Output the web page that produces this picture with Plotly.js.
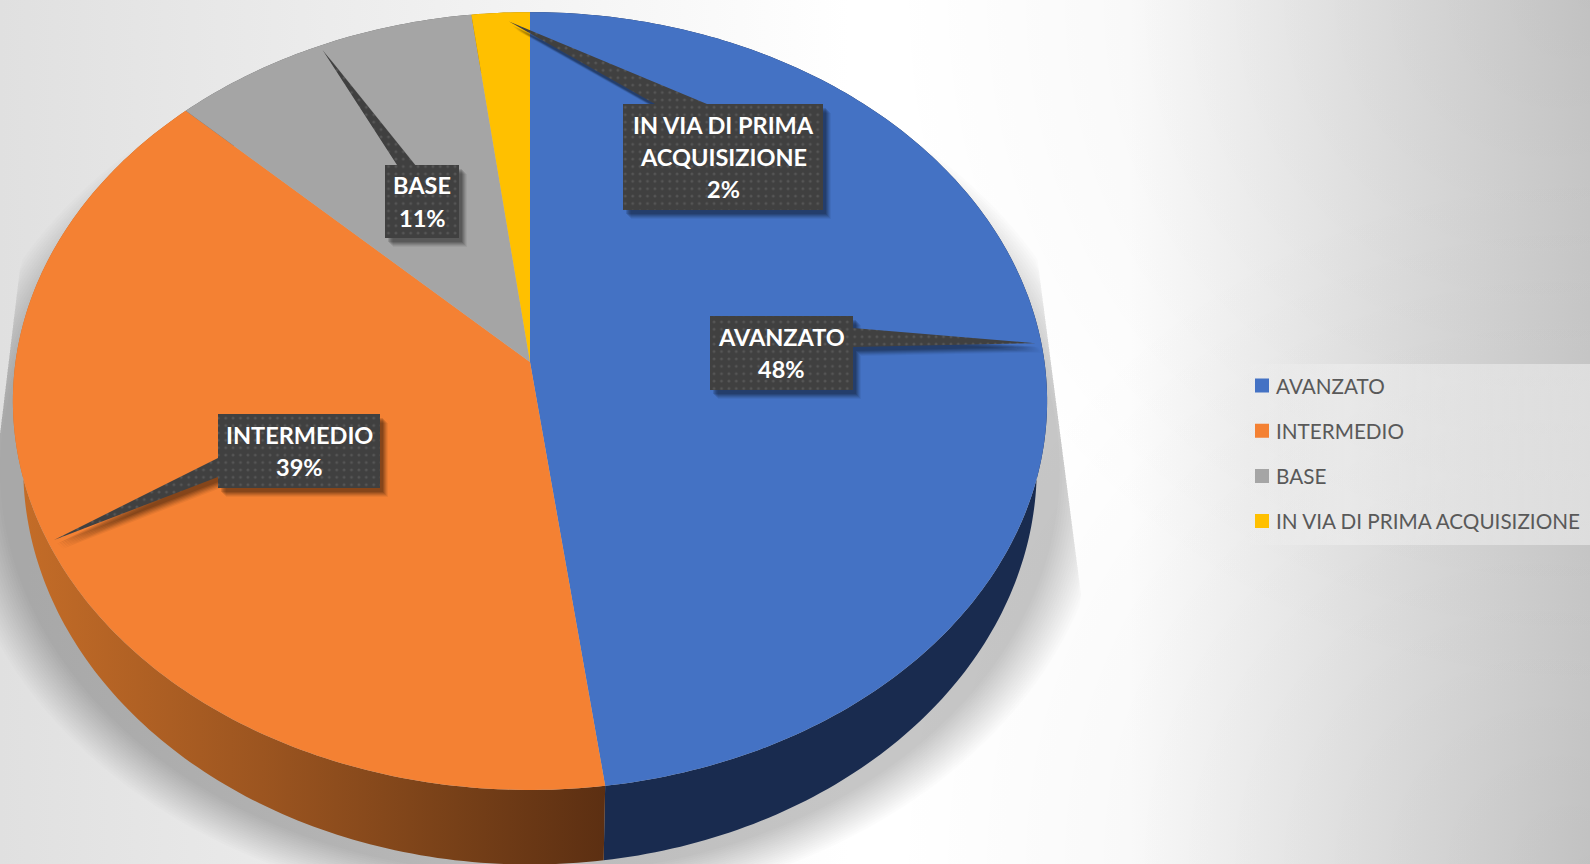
<!DOCTYPE html>
<html>
<head>
<meta charset="utf-8">
<script src="https://cdn.plot.ly/plotly-3.0.1.min.js"></script>
<style>
html,body{margin:0;padding:0;overflow:hidden;background:#fff}
#chart{width:1590px;height:864px;background-color:#fff;
background-image:
 radial-gradient(circle 700px at 1590px 0px, rgba(0,0,0,.07), rgba(0,0,0,0)),
 radial-gradient(circle 700px at 1590px 864px, rgba(0,0,0,.07), rgba(0,0,0,0)),
 linear-gradient(to right, #e0e0e0 0, #ffffff 850px, #ffffff 1130px, #d0d0d0 1590px);}
</style>
</head>
<body>
<div id="chart"></div>
<script>
// Data
const categories = ["AVANZATO", "INTERMEDIO", "BASE", "IN VIA DI PRIMA ACQUISIZIONE"];
const shares = [47.9, 39.4, 10.7, 2.0];
const shownPercent = [48, 39, 11, 2];
const topColors = ["#4472c4", "#f48133", "#a5a5a5", "#ffc000"];
const sideColors = ["#192b4f", null, "#636363", "#997300"];

// Perspective of the tilted disc
const view = {cx: 530, cy: 362, a: 514.5, b: 385, k: 0.1004, depthCy: 428, depthSx: 0.98, depthSy: 1.02};
function project(turn, r, cy, sx, sy) {
  const t = turn * 2 * Math.PI, u = Math.sin(t) * r, v = Math.cos(t) * r, w = 1 + view.k * v;
  return [view.cx + sx * view.a * u / w, cy - sy * view.b * v / w];
}
function arc(from, to, cy, sx, sy) {
  const n = Math.max(4, Math.ceil((to - from) * 400)), pts = [];
  for (let i = 0; i <= n; i++) pts.push(project(from + (to - from) * i / n, 1, cy, sx, sy));
  return pts;
}
const total = shares.reduce((p, c) => p + c, 0);
let run = 0;
const spans = shares.map(s => { const f = run / total; run += s; return [f, run / total]; });

const traces = [];
function poly(pts, extra) {
  traces.push(Object.assign({type: "scatter", mode: "none", x: pts.map(p => p[0]), y: pts.map(p => p[1]),
    fill: "toself", hoverinfo: "skip", showlegend: false}, extra));
}

// Lighter band behind the legend
poly([[1240, 364], [1590, 364], [1590, 545], [1240, 545], [1240, 364]], {
  fillgradient: {type: "horizontal", colorscale: [[0, "rgba(255,255,255,0)"], [0.3, "rgba(255,255,255,0.28)"], [1, "rgba(255,255,255,0.42)"]]}
});

// Soft ground shadow, cut by the slanted edges of its frame
const shadowEdge = {rx0: 1042, ry0: 293, rs: 0.13, lx0: 16, ly0: 300, ls: -0.12};
for (let f = 1.09; f >= 0.999; f -= 0.005) {
  const pts = [];
  for (let i = 0; i <= 240; i++) {
    const t = i / 240 * 2 * Math.PI;
    let x = 530 + 530 * f * Math.sin(t), y = 470 - 405 * f * Math.cos(t);
    x = Math.min(x, shadowEdge.rx0 + (y - shadowEdge.ry0) * shadowEdge.rs);
    x = Math.max(x, shadowEdge.lx0 + (y - shadowEdge.ly0) * shadowEdge.ls);
    pts.push([x, y]);
  }
  poly(pts, {fillcolor: "rgba(0,0,0,0.0125)"});
}

// Side wall
spans.forEach((s, i) => {
  const pts = arc(s[0], s[1], view.cy, 1, 1).concat(arc(s[0], s[1], view.depthCy, view.depthSx, view.depthSy).reverse());
  pts.push(pts[0]);
  const extra = sideColors[i] ? {fillcolor: sideColors[i]} : {
    fillgradient: {type: "horizontal", colorscale: [[0, "#c56d28"], [0.42, "#9c5520"], [0.75, "#774018"], [1, "#5c2f12"]]}
  };
  poly(pts, extra);
});

// Top face
spans.forEach((s, i) => {
  const pts = [[view.cx, view.cy]].concat(arc(s[0], s[1], view.cy, 1, 1));
  pts.push([view.cx, view.cy]);
  poly(pts, {fillcolor: topColors[i]});
});

// Callouts: box, wedge base, text
const callouts = [
  {x0: 710, x1: 853, y0: 316, y1: 390, edge: "right", b0: 328, b1: 347, tdx: 3, tdy: 6},
  {x0: 218, x1: 380, y0: 414, y1: 488, edge: "left",  b0: 458, b1: 477, tdx: -2, tdy: 0},
  {x0: 385, x1: 459, y0: 165, y1: 238, edge: "top",   b0: 397, b1: 415, tdx: 0, tdy: 0},
  {x0: 623, x1: 823, y0: 104, y1: 210, edge: "top",   b0: 655, b1: 707, tdx: 8, tdy: 4}
];
const wrapped = [["AVANZATO"], ["INTERMEDIO"], ["BASE"], ["IN VIA DI PRIMA", "ACQUISIZIONE"]];
const lineStep = 32.4;
function calloutShape(c, tip, dx, dy) {
  let p;
  if (c.edge === "top") p = [[c.x0, c.y0], [c.b0, c.y0], tip, [c.b1, c.y0], [c.x1, c.y0], [c.x1, c.y1], [c.x0, c.y1]];
  if (c.edge === "right") p = [[c.x0, c.y0], [c.x1, c.y0], [c.x1, c.b0], tip, [c.x1, c.b1], [c.x1, c.y1], [c.x0, c.y1]];
  if (c.edge === "left") p = [[c.x0, c.y0], [c.x1, c.y0], [c.x1, c.y1], [c.x0, c.y1], [c.x0, c.b1], tip, [c.x0, c.b0]];
  p.push(p[0]);
  return p.map(q => [q[0] + dx, q[1] + dy]);
}
const annotations = [];
callouts.forEach((c, i) => {
  const mid = (spans[i][0] + spans[i][1]) / 2;
  const p = project(mid, 0.985, view.cy, 1, 1);
  const tip = [p[0] + c.tdx, p[1] + c.tdy];
  [[8, 9, .05], [7, 8, .07], [6, 7, .09], [5, 6, .10], [4, 5, .12], [3, 4, .12]].forEach(d =>
    poly(calloutShape(c, tip, d[0], d[1]), {fillcolor: "rgba(0,0,0," + d[2] + ")"}));
  poly(calloutShape(c, tip, 0, 0), {fillcolor: "#404040",
    fillpattern: {shape: ".", bgcolor: "#404040", fgcolor: "#565656", size: 7.4, solidity: 0.12}});
  const lines = wrapped[i].concat([shownPercent[i] + "%"]);
  lines.forEach((line, j) => {
    annotations.push({x: (c.x0 + c.x1) / 2, y: (c.y0 + c.y1) / 2 + (j - (lines.length - 1) / 2) * lineStep,
      xref: "x", yref: "y", showarrow: false, text: "<b>" + line + "</b>",
      font: {family: "Lato, sans-serif", size: 23.5, color: "#ffffff"}, align: "center"});
  });
});

// Legend entries
categories.forEach((name, i) => {
  traces.push({type: "scatter", mode: "markers", x: [null], y: [null], name: name, legendgroup: "g" + i,
    marker: {symbol: "square", size: 14, color: topColors[i]}, hoverinfo: "skip", showlegend: true});
});

const layout = {
  width: 1590, height: 864,
  margin: {l: 0, r: 0, t: 0, b: 0},
  paper_bgcolor: "rgba(0,0,0,0)", plot_bgcolor: "rgba(0,0,0,0)",
  xaxis: {range: [0, 1590], visible: false, fixedrange: true},
  yaxis: {range: [864, 0], visible: false, fixedrange: true},
  font: {family: "Lato, sans-serif"},
  showlegend: true,
  legend: {x: 1236 / 1590, xanchor: "left", y: 1 - 365.5 / 864, yanchor: "top", bgcolor: "rgba(0,0,0,0)",
    tracegroupgap: 15.3, font: {family: "Lato, sans-serif", size: 20.7, color: "#595959"}},
  annotations: annotations
};
Plotly.newPlot("chart", traces, layout, {displayModeBar: false, responsive: false}).then(gd => {
  // Nudge the legend squares next to their labels
  gd.querySelectorAll(".legendpoints").forEach(n => n.setAttribute("transform", "translate(6,0)"));
});
</script>
</body>
</html>
